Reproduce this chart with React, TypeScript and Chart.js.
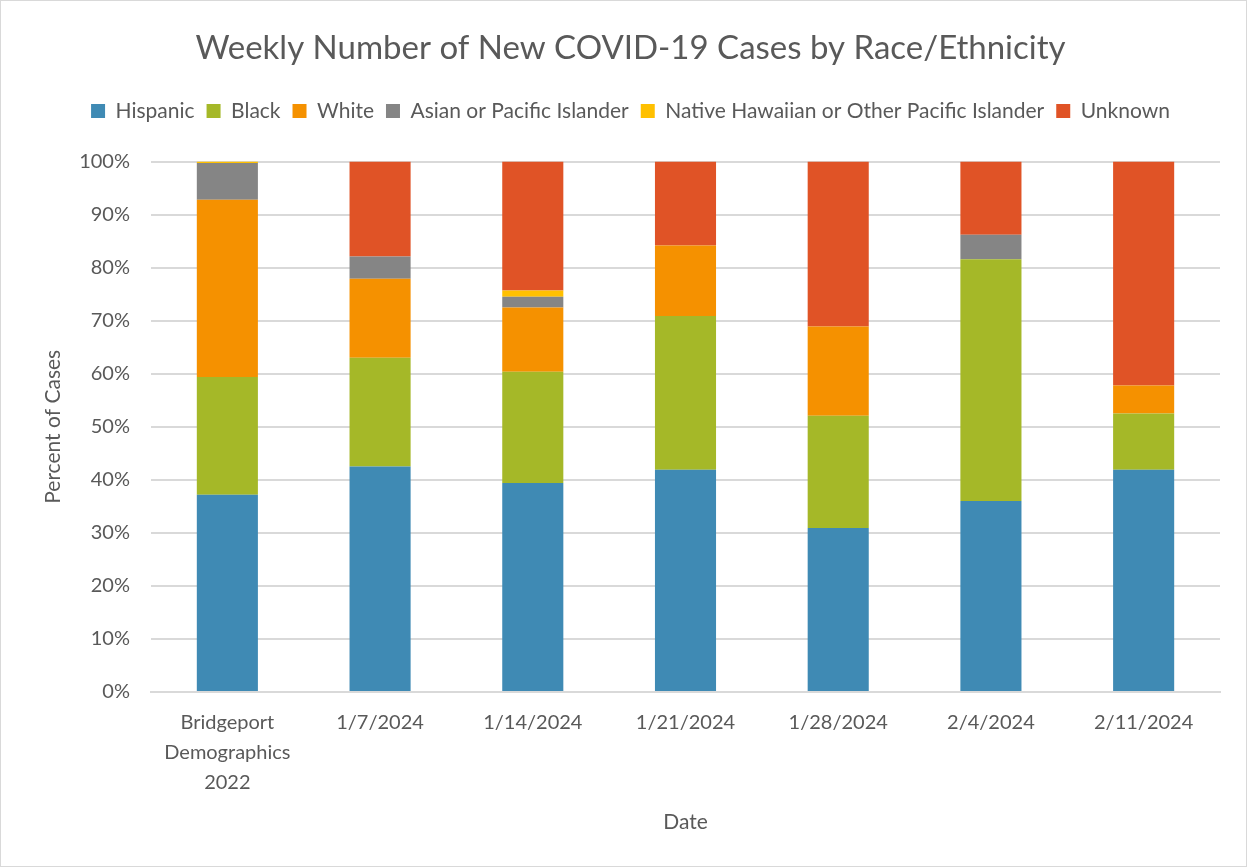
import React, { useEffect, useRef } from "react";
import { Chart, registerables } from "chart.js";

Chart.register(...registerables);

const categories: (string | string[])[] = [
  ["Bridgeport", "Demographics", "2022"],
  "1/7/2024",
  "1/14/2024",
  "1/21/2024",
  "1/28/2024",
  "2/4/2024",
  "2/11/2024",
];

const hispanic = [37.2, 42.5, 39.4, 41.9, 30.9, 36.0, 41.9];
const black = [22.2, 20.5, 21.0, 29.0, 21.2, 45.6, 10.6];
const white = [33.4, 14.9, 12.1, 13.3, 16.8, 0, 5.3];
const asianPI = [6.95, 4.2, 2.0, 0, 0, 4.6, 0];
const nativeHawaiian = [0.25, 0, 1.2, 0, 0, 0, 0];
const unknown = [0, 17.9, 24.3, 15.8, 31.1, 13.8, 42.2];

const yTicks = [0, 10, 20, 30, 40, 50, 60, 70, 80, 90, 100];

const seriesNames = [
  "Hispanic",
  "Black",
  "White",
  "Asian or Pacific Islander",
  "Native Hawaiian or Other Pacific Islander",
  "Unknown",
];
const seriesColors = ["#3f8ab4", "#a5b828", "#f59100", "#858585", "#ffc000", "#e05326"];

const FONT = "Lato, 'Open Sans', sans-serif";
const TEXT = "#595959";

const legendSpacer = {
  id: "legendSpacer",
  beforeInit(chart: any) {
    const legend = chart.legend;
    if (!legend) return;
    const orig = legend.fit;
    legend.fit = function () {
      orig.call(this);
      this.height += 30;
    };
  },
};

export default function App() {
  const ref = useRef<HTMLCanvasElement | null>(null);

  useEffect(() => {
    document.body.style.margin = "0";
    if (!ref.current) return;
    const values = [hispanic, black, white, asianPI, nativeHawaiian, unknown];
    const chart = new Chart(ref.current, {
      type: "bar",
      data: {
        labels: categories,
        datasets: values.map((v, i) => ({
          label: seriesNames[i],
          data: v,
          backgroundColor: seriesColors[i],
          borderWidth: 0,
          barPercentage: 0.4,
          categoryPercentage: 1,
        })),
      },
      plugins: [legendSpacer],
      options: {
        animation: false,
        responsive: false,
        maintainAspectRatio: false,
        layout: { padding: { left: 40, right: 26, top: 0, bottom: 14 } },
        plugins: {
          tooltip: { enabled: false },
          title: {
            display: true,
            text: "Weekly Number of New COVID-19 Cases by Race/Ethnicity",
            color: TEXT,
            font: { family: FONT, size: 33, weight: "normal" },
            padding: { top: 28, bottom: 20 },
          },
          legend: {
            display: true,
            position: "top",
            labels: {
              color: TEXT,
              font: { family: FONT, size: 21 },
              boxWidth: 14,
              boxHeight: 14,
              padding: 12,
            },
          },
        },
        scales: {
          x: {
            stacked: true,
            grid: { display: false, drawTicks: false },
            border: { display: true, color: "#d9d9d9", width: 2 },
            ticks: {
              color: TEXT,
              font: { family: FONT, size: 20, lineHeight: 1.5 },
              maxRotation: 0,
              autoSkip: false,
              padding: 16,
            },
            title: {
              display: true,
              text: "Date",
              color: TEXT,
              font: { family: FONT, size: 21 },
              padding: { top: 10, bottom: 17 },
            },
            afterFit: (scale: any) => {
              scale.height = 160;
            },
          },
          y: {
            stacked: true,
            min: 0,
            max: 100,
            afterBuildTicks: (scale: any) => {
              scale.ticks = yTicks.map((v) => ({ value: v }));
            },
            grid: { color: "#d9d9d9", lineWidth: 2, drawTicks: false },
            border: { display: false },
            ticks: {
              color: TEXT,
              font: { family: FONT, size: 20 },
              padding: 21,
              callback: (v: any) => v + "%",
            },
            title: {
              display: true,
              text: "Percent of Cases",
              color: TEXT,
              font: { family: FONT, size: 21 },
              padding: { top: 0, bottom: 16 },
            },
            afterFit: (scale: any) => {
              scale.width = 110;
            },
          },
        },
      },
    });
    return () => chart.destroy();
  }, []);

  return (
    <div style={{ width: 1247, height: 867, position: "relative", boxSizing: "border-box", border: "1px solid #d9d9d9", background: "#fff" }}>
      <canvas ref={ref} width={1245} height={865} style={{ display: "block" }} />
    </div>
  );
}
